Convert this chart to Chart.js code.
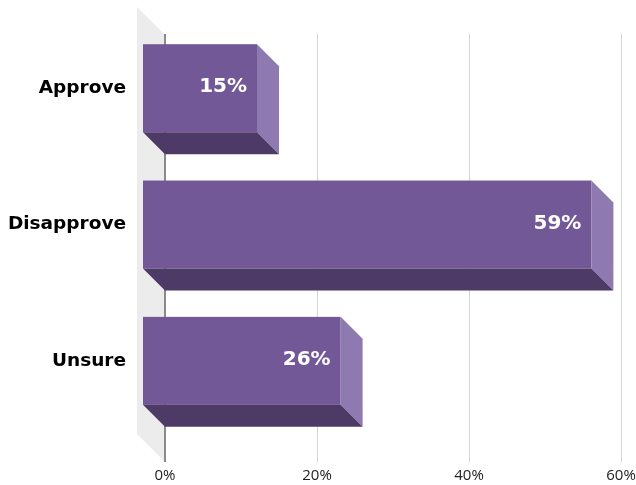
<!DOCTYPE html>
<html>
<head>
<meta charset="utf-8">
<script src="https://cdn.jsdelivr.net/npm/chart.js@4"></script>
<style>
  html, body { margin: 0; padding: 0; background: #ffffff; }
  #wrap { width: 636px; height: 485px; position: relative; }
</style>
</head>
<body>
<div id="wrap"><canvas id="chart"></canvas></div>
<script>
const categories = ["Approve", "Disapprove", "Unsure"];
const shares = [15, 59, 26];
const axisTicks = [0, 20, 40, 60];

const frontColor = "#735898";
const sideColor = "#8e79b0";
const bottomColor = "#4d3a67";
const wallColor = "#ececec";
const depth = 22;

// keep Chart.js from reserving tick padding at the scale ends
function noEndPadding(scale) {
  scale.paddingTop = 0;
  scale.paddingBottom = 0;
  scale.paddingLeft = 0;
  scale.paddingRight = 0;
}

const bars3d = {
  id: "bars3d",
  beforeDatasetsDraw(chart) {
    const { ctx, chartArea, scales } = chart;
    const x = scales.x;
    const base = x.getPixelForValue(0);

    // side wall behind the category axis
    ctx.save();
    ctx.fillStyle = wallColor;
    ctx.beginPath();
    ctx.moveTo(base - 28, chartArea.top - 13);
    ctx.lineTo(base, chartArea.top + 15);
    ctx.lineTo(base, chartArea.bottom + 33);
    ctx.lineTo(base - 28, chartArea.bottom + 5);
    ctx.closePath();
    ctx.fill();

    // grid lines on the back plane
    axisTicks.forEach((t) => {
      const px = Math.round(x.getPixelForValue(t));
      ctx.beginPath();
      if (t === 0) {
        ctx.strokeStyle = "#8a8a8a";
        ctx.lineWidth = 2;
      } else {
        ctx.strokeStyle = "#d4d4d4";
        ctx.lineWidth = 1;
        ctx.translate(0.5, 0);
      }
      ctx.moveTo(px, chartArea.top + 14);
      ctx.lineTo(px, chartArea.bottom + 33);
      ctx.stroke();
      ctx.setTransform(1, 0, 0, 1, 0, 0);
    });
    ctx.restore();
  },
  afterDatasetsDraw(chart) {
    const { ctx } = chart;
    const meta = chart.getDatasetMeta(0);
    ctx.save();
    meta.data.forEach((bar, i) => {
      const { x, y, base, height } = bar.getProps(["x", "y", "base", "height"], true);
      const top = y - height / 2;
      const bottom = y + height / 2;
      const fl = base - depth;
      const fr = x - depth;

      ctx.fillStyle = frontColor;
      ctx.fillRect(fl, top, fr - fl, height);

      ctx.fillStyle = sideColor;
      ctx.beginPath();
      ctx.moveTo(fr, top);
      ctx.lineTo(x, top + depth);
      ctx.lineTo(x, bottom + depth);
      ctx.lineTo(fr, bottom);
      ctx.closePath();
      ctx.fill();

      ctx.fillStyle = bottomColor;
      ctx.beginPath();
      ctx.moveTo(fl, bottom);
      ctx.lineTo(fr, bottom);
      ctx.lineTo(x, bottom + depth);
      ctx.lineTo(base, bottom + depth);
      ctx.closePath();
      ctx.fill();

      ctx.fillStyle = "#ffffff";
      ctx.font = "bold 20px 'DejaVu Sans'";
      ctx.textAlign = "right";
      ctx.textBaseline = "middle";
      ctx.fillText(shares[i] + "%", fr - 10, y - 1);
    });
    ctx.restore();
  },
};

new Chart(document.getElementById("chart").getContext("2d"), {
  type: "bar",
  data: {
    labels: categories,
    datasets: [
      {
        data: shares,
        backgroundColor: "rgba(0,0,0,0)",
        borderWidth: 0,
        categoryPercentage: 1,
        barPercentage: 0.645,
      },
    ],
  },
  options: {
    indexAxis: "y",
    animation: false,
    responsive: true,
    maintainAspectRatio: false,
    layout: { padding: { top: 20, right: 15, left: 0, bottom: 0 } },
    scales: {
      x: {
        min: 0,
        max: 60,
        afterBuildTicks: (scale) => {
          scale.ticks = axisTicks.map((v) => ({ value: v }));
        },
        afterFit: (scale) => {
          scale.height = 56;
          noEndPadding(scale);
        },
        grid: { display: false, drawTicks: false },
        border: { display: false },
        ticks: {
          padding: 38,
          maxRotation: 0,
          color: "#222222",
          font: { family: "'Open Sans'", size: 15 },
          callback: (v) => v + "%",
        },
      },
      y: {
        afterFit: (scale) => {
          scale.width = 165;
          noEndPadding(scale);
        },
        grid: { display: false, drawTicks: false },
        border: { display: false },
        ticks: {
          padding: 39,
          color: "#000000",
          font: { family: "'DejaVu Sans'", size: 18.5, weight: "bold" },
        },
      },
    },
    plugins: {
      legend: { display: false },
      tooltip: { enabled: false },
    },
  },
  plugins: [bars3d],
});
</script>
</body>
</html>
